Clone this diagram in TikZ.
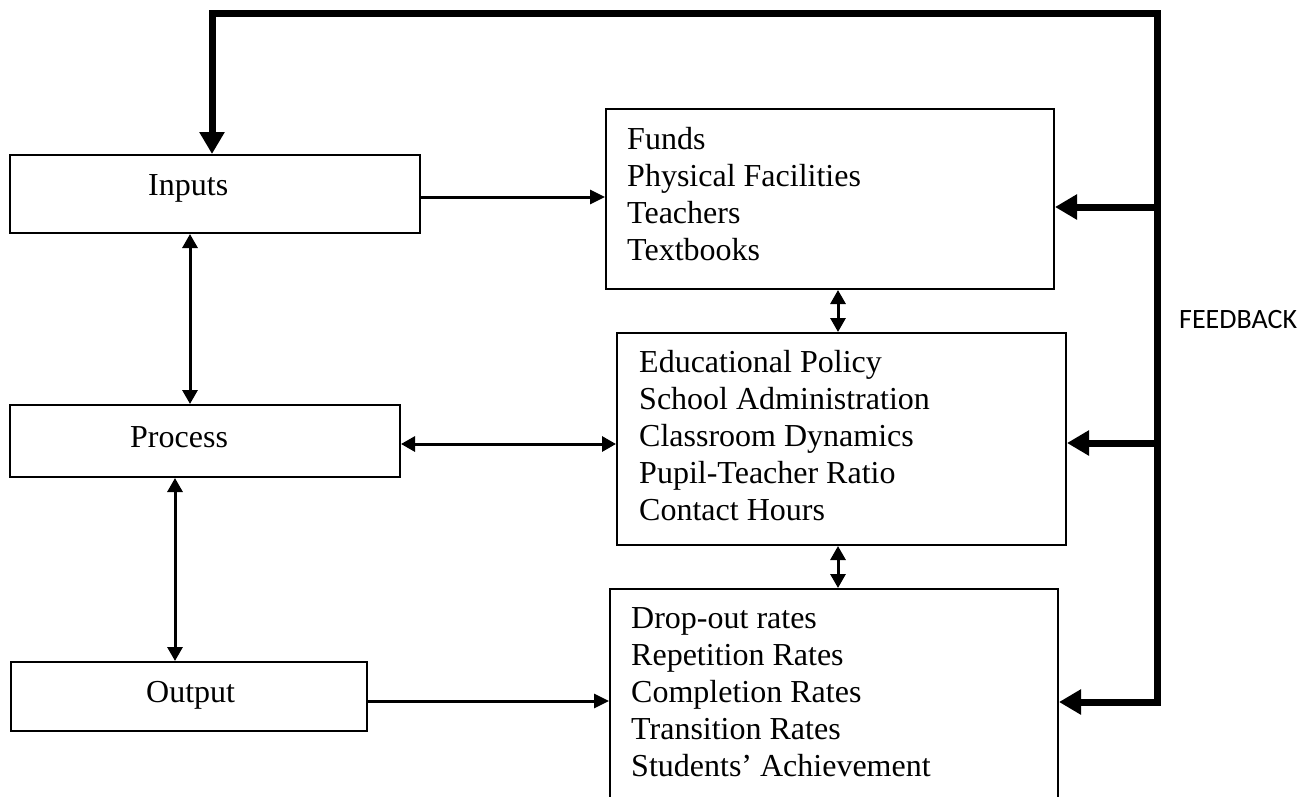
\documentclass[tikz,border=0pt]{standalone}
\usepackage{fontspec}
\setmainfont{Liberation Serif}
\newfontfamily\fbfont{Carlito}
\usetikzlibrary{arrows.meta}
\newcommand{\boxlines}[1]{\begin{tabular}[t]{@{}l@{}}#1\end{tabular}}
\begin{document}
\begin{tikzpicture}[x=1pt,y=-1pt,
  box/.style={draw, line width=2pt, inner sep=0pt},
  txt/.style={anchor=base west, inner sep=0pt, font=\fontsize{32}{37.2}\selectfont},
  thinarrow/.style={line width=3pt, -{Triangle[length=15pt,width=14pt]}},
  dblarrow/.style={line width=3pt, {Triangle[length=14pt,width=15pt]}-{Triangle[length=14pt,width=15pt]}},
  fbline/.style={line width=7pt},
  fbend/.style={fbline, -{Triangle[length=22pt,width=24pt]}},
  fbboth/.style={fbline, {Triangle[length=22pt,width=24pt]}-{Triangle[length=22pt,width=24pt]}}
]
\useasboundingbox (0,0) rectangle (1314,796);
\clip (0,0) rectangle (1314,796);

% left boxes
\node[box, minimum width=410pt, minimum height=78pt] (inputs) at (215,194) {};
\node[box, minimum width=390pt, minimum height=72pt] (process) at (205,441) {};
\node[box, minimum width=356pt, minimum height=69pt] (output) at (189,696.5) {};
\node[txt] (inputsT) at (148,195) {Inputs};
\node[txt] (processT) at (130,447) {Process};
\node[txt] (outputT) at (146,702) {Output};

% right boxes
\node[box, minimum width=448pt, minimum height=180pt] (funds) at (830,199) {};
\node[box, minimum width=449pt, minimum height=212pt] (policy) at (841.5,439) {};
\node[box, minimum width=448pt, minimum height=212pt] (outcome) at (834,695) {};
\node[txt] (fundsT) at (627,149)
  {\boxlines{Funds\\Physical Facilities\\Teachers\\Textbooks}};
\node[txt] (policyT) at (639,372)
  {\boxlines{Educational Policy\\School Administration\\Classroom Dynamics\\Pupil-Teacher Ratio\\Contact Hours}};
\node[txt] (outcomeT) at (631,628)
  {\boxlines{Drop-out rates\\Repetition Rates\\Completion Rates\\Transition Rates\\Students’ Achievement}};

% connectors
\draw[thinarrow] ([yshift=-3pt]inputs.east) -- ([yshift=-3pt]inputs.east -| funds.west);
\draw[dblarrow] ([yshift=-3pt]process.east) -- ([yshift=-3pt]process.east -| policy.west);
\draw[thinarrow] ([yshift=-4.5pt]output.east) -- ([yshift=-4.5pt]output.east -| outcome.west);
\draw[dblarrow] (190,0 |- inputs.south) -- (190,0 |- process.north);
\draw[dblarrow] (175,0 |- process.south) -- (175,0 |- output.north);
\draw[dblarrow] (838,0 |- funds.south) -- (838,0 |- policy.north);
\draw[dblarrow] (838,0 |- policy.south) -- (838,0 |- outcome.north);

% feedback loop
\coordinate (fbTR) at (1157,13);
\coordinate (fbTL) at (212,13);
\coordinate (fb1) at (1157,207);
\coordinate (fb2) at (1157,443);
\coordinate (fb3) at (1157,702);
\draw[fbboth] (fb3 -| outcome.east) -- (fb3) -- (fbTR) -- (fbTL) -- (fbTL |- inputs.north);
\draw[fbend] (fb1) -- (fb1 -| funds.east);
\draw[fbend] (fb2) -- (fb2 -| policy.east);

\node[anchor=base west, inner sep=0pt, font=\fbfont\fontsize{28}{32}\selectfont] (fblabel) at (1179,328) {FEEDBACK};
\end{tikzpicture}
\end{document}
